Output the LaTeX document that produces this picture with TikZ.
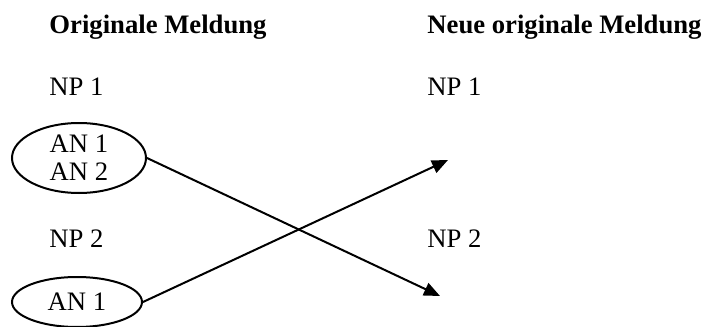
\documentclass[tikz,border=0pt]{standalone}
\usepackage{fontspec}
\setmainfont{Liberation Serif}
\usetikzlibrary{shapes.geometric,arrows.meta}
\begin{document}
\begin{tikzpicture}[x=0.45pt, y=-0.45pt, every node/.style={font=\fontsize{12}{12.6}\selectfont, inner sep=0pt},
  lbl/.style={anchor=base west},
  head/.style={lbl, font=\fontsize{12}{12.6}\selectfont\bfseries},
  grp/.style={draw, ellipse, line width=0.9pt, align=center},
  move/.style={line width=0.9pt, -{Triangle[length=7.2pt,width=6pt]}}]
\useasboundingbox (0,0) rectangle (703,327);
% headings
\node[head] (hold) at (49,33) {Originale Meldung};
\node[head] (hnew) at (427,33) {Neue originale Meldung};
% left column
\node[lbl] (np1old) at (49,95) {NP 1};
\node[grp, minimum width=60.3pt, minimum height=31.5pt] (an12) at (79,158) {AN 1\\AN 2};
\node[lbl] (np2old) at (49,247) {NP 2};
\node[grp, minimum width=58.5pt, minimum height=22.5pt] (an1) at (77,302) {AN 1};
% right column
\node[lbl] (np1new) at (427,95) {NP 1};
\node[lbl] (np2new) at (427,247) {NP 2};
\coordinate (slot1) at (448,160);
\coordinate (slot2) at (440,296);
% moves
\draw[move] (an12.east) -- (slot2);
\draw[move] (an1.east) -- (slot1);
\end{tikzpicture}
\end{document}
